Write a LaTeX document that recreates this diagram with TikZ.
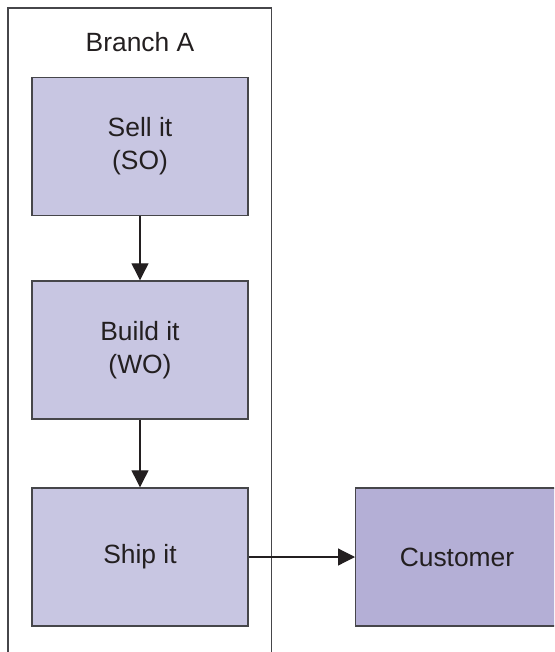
\documentclass[tikz,border=0pt]{standalone}
\usepackage{fontspec}
\setmainfont{Liberation Sans}
\usepackage{xcolor}
\usetikzlibrary{arrows.meta}

\definecolor{stepfill}{RGB}{200,198,226}
\definecolor{custfill}{RGB}{180,175,214}
\definecolor{edgegray}{RGB}{70,70,74}
\definecolor{inkgray}{RGB}{35,31,32}

\begin{document}
\begin{tikzpicture}[x=0.5pt,y=-0.5pt,
    task/.style={draw=edgegray, fill=stepfill, line width=0.7pt, minimum width=108pt,
        minimum height=69pt, inner sep=0pt, align=center, text=inkgray,
        font=\fontsize{13.2}{16.5}\selectfont},
    flow/.style={-{Triangle[length=8.5pt,width=8.5pt]}, line width=0.6pt, draw=inkgray}]
    % Setup
    \useasboundingbox (0,0) rectangle (554,652);
    \clip (0,0) rectangle (554,652);

    % Lane (open at the bottom)
    \draw[edgegray, line width=0.65pt] (8,660) |- (271.7,8) -- (271.7,660);
    \node[text=inkgray, font=\fontsize{13.2}{16.5}\selectfont] (branch) at (140,42) {Branch A};

    % Steps in the lane
    \node[task] (sell) at (140,146.5) {Sell it\\(SO)};
    \node[task] (build) at (140,350) {Build it\\(WO)};
    \node[task] (ship) at (140,557) {Ship it};

    % Outside the lane (box runs off the right edge)
    \node[task, fill=custfill, minimum width=130pt, anchor=west] (customer) at (355,557) {};
    \node[text=inkgray, font=\fontsize{13.2}{16.5}\selectfont] (custlabel) at (457,557) {Customer};

    % Flow
    \draw[flow] (sell) -- (build);
    \draw[flow] (build) -- (ship);
    \draw[flow] (ship) -- (customer);
\end{tikzpicture}
\end{document}
